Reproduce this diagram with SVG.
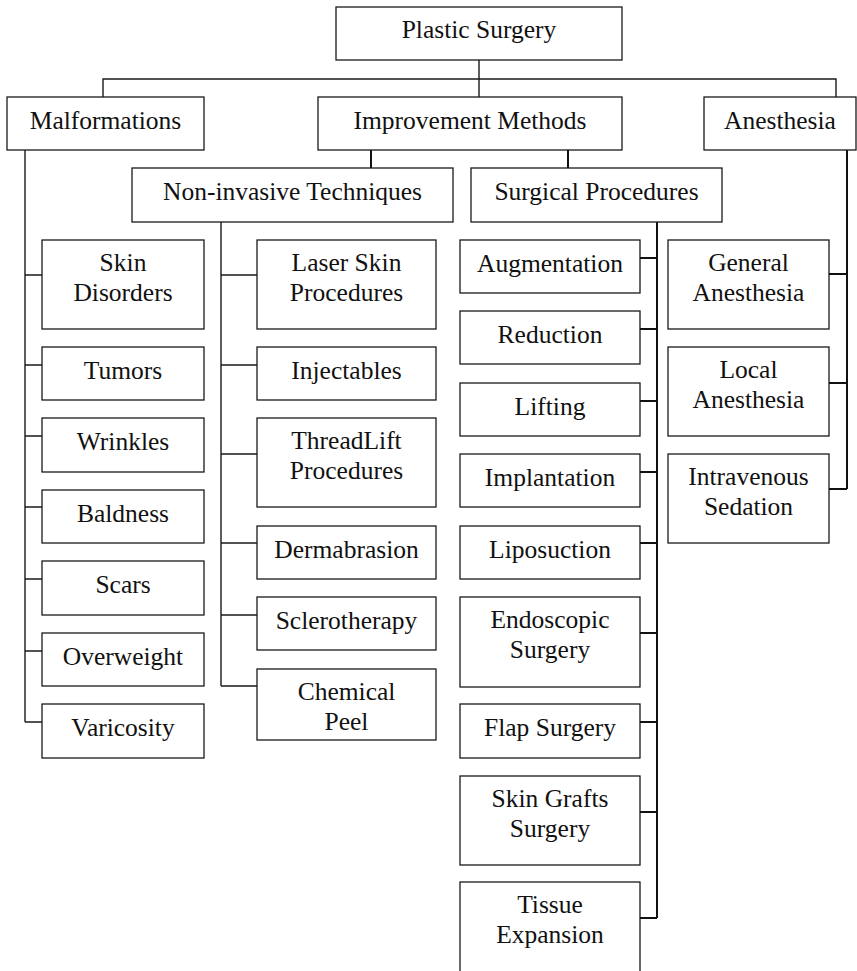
<svg xmlns="http://www.w3.org/2000/svg" width="857" height="971" viewBox="0 0 857 971">
<style>
.box{fill:#fff;stroke:#1a1a1a;stroke-width:1.3}
.t{font-size:25.5px;fill:#111;text-anchor:middle}
.c{fill:none;stroke:#1a1a1a;stroke-width:1.4}
.c2{fill:none;stroke:#111;stroke-width:2}
</style>
<rect width="857" height="971" fill="#fff"/>
<g id="connectors">
<path class="c" d="M479 60V97M103 97V79H836V97"/>
<path class="c2" d="M371 150V168M568 150V168"/>
<path class="c" d="M25 150V722M25 275H42M25 365H42M25 436H42M25 507H42M25 579H42M25 651H42M25 722H42"/>
<path class="c" d="M221 222V686M221 275H257M221 365H257M221 454H257M221 543H257M221 615H257M221 686H257"/>
<path class="c2" d="M657 222V918M640 258H657M640 329H657M640 401H657M640 472H657M640 543H657M640 633H657M640 722H657M640 812H657M640 918H657"/>
<path class="c2" d="M847 150V489M829 274H847M829 383H847M829 489H847"/>
</g>
<g font-family="Liberation Serif, Times New Roman, DejaVu Serif, serif">
<g id="plastic-surgery"><rect class="box" x="336" y="7" width="286" height="53"/><text class="t" x="479" y="38">Plastic Surgery</text></g>
<g id="malformations"><rect class="box" x="7" y="97" width="197" height="53"/><text class="t" x="105.5" y="129">Malformations</text></g>
<g id="improvement-methods"><rect class="box" x="318" y="97" width="304" height="53"/><text class="t" x="470" y="129">Improvement Methods</text></g>
<g id="anesthesia"><rect class="box" x="704" y="97" width="152" height="53"/><text class="t" x="780" y="129">Anesthesia</text></g>
<g id="non-invasive"><rect class="box" x="132" y="168" width="321" height="54"/><text class="t" x="292.5" y="200">Non-invasive Techniques</text></g>
<g id="surgical-procedures"><rect class="box" x="471" y="168" width="251" height="54"/><text class="t" x="596.5" y="200">Surgical Procedures</text></g>

<g id="skin-disorders"><rect class="box" x="42" y="240" width="162" height="89"/><text class="t" x="123" y="271">Skin</text><text class="t" x="123" y="301">Disorders</text></g>
<g id="tumors"><rect class="box" x="42" y="347" width="162" height="53"/><text class="t" x="123" y="378.5">Tumors</text></g>
<g id="wrinkles"><rect class="box" x="42" y="418" width="162" height="54"/><text class="t" x="123" y="450">Wrinkles</text></g>
<g id="baldness"><rect class="box" x="42" y="490" width="162" height="53"/><text class="t" x="123" y="521.5">Baldness</text></g>
<g id="scars"><rect class="box" x="42" y="561" width="162" height="54"/><text class="t" x="123" y="593">Scars</text></g>
<g id="overweight"><rect class="box" x="42" y="633" width="162" height="53"/><text class="t" x="123" y="664.5">Overweight</text></g>
<g id="varicosity"><rect class="box" x="42" y="704" width="162" height="54"/><text class="t" x="123" y="736">Varicosity</text></g>

<g id="laser-skin"><rect class="box" x="257" y="240" width="179" height="89"/><text class="t" x="346.5" y="271">Laser Skin</text><text class="t" x="346.5" y="301">Procedures</text></g>
<g id="injectables"><rect class="box" x="257" y="347" width="179" height="53"/><text class="t" x="346.5" y="378.5">Injectables</text></g>
<g id="threadlift"><rect class="box" x="257" y="418" width="179" height="89"/><text class="t" x="346.5" y="449">ThreadLift</text><text class="t" x="346.5" y="479">Procedures</text></g>
<g id="dermabrasion"><rect class="box" x="257" y="526" width="179" height="53"/><text class="t" x="346.5" y="557.5">Dermabrasion</text></g>
<g id="sclerotherapy"><rect class="box" x="257" y="597" width="179" height="53"/><text class="t" x="346.5" y="628.5">Sclerotherapy</text></g>
<g id="chemical-peel"><rect class="box" x="257" y="669" width="179" height="71"/><text class="t" x="346.5" y="700">Chemical</text><text class="t" x="346.5" y="730">Peel</text></g>

<g id="augmentation"><rect class="box" x="460" y="240" width="180" height="53"/><text class="t" x="550" y="271.5">Augmentation</text></g>
<g id="reduction"><rect class="box" x="460" y="311" width="180" height="53"/><text class="t" x="550" y="342.5">Reduction</text></g>
<g id="lifting"><rect class="box" x="460" y="383" width="180" height="53"/><text class="t" x="550" y="414.5">Lifting</text></g>
<g id="implantation"><rect class="box" x="460" y="454" width="180" height="53"/><text class="t" x="550" y="485.5">Implantation</text></g>
<g id="liposuction"><rect class="box" x="460" y="526" width="180" height="53"/><text class="t" x="550" y="557.5">Liposuction</text></g>
<g id="endoscopic"><rect class="box" x="460" y="597" width="180" height="90"/><text class="t" x="550" y="628">Endoscopic</text><text class="t" x="550" y="658">Surgery</text></g>
<g id="flap-surgery"><rect class="box" x="460" y="704" width="180" height="54"/><text class="t" x="550" y="736">Flap Surgery</text></g>
<g id="skin-grafts"><rect class="box" x="460" y="776" width="180" height="89"/><text class="t" x="550" y="807">Skin Grafts</text><text class="t" x="550" y="837">Surgery</text></g>
<g id="tissue-expansion"><rect class="box" x="460" y="882" width="180" height="110"/><text class="t" x="550" y="913">Tissue</text><text class="t" x="550" y="943">Expansion</text></g>

<g id="general-anesthesia"><rect class="box" x="668" y="240" width="161" height="89"/><text class="t" x="748.5" y="271">General</text><text class="t" x="748.5" y="301">Anesthesia</text></g>
<g id="local-anesthesia"><rect class="box" x="668" y="347" width="161" height="89"/><text class="t" x="748.5" y="378">Local</text><text class="t" x="748.5" y="408">Anesthesia</text></g>
<g id="intravenous-sedation"><rect class="box" x="668" y="454" width="161" height="89"/><text class="t" x="748.5" y="485">Intravenous</text><text class="t" x="748.5" y="515">Sedation</text></g>
</g>
</svg>
